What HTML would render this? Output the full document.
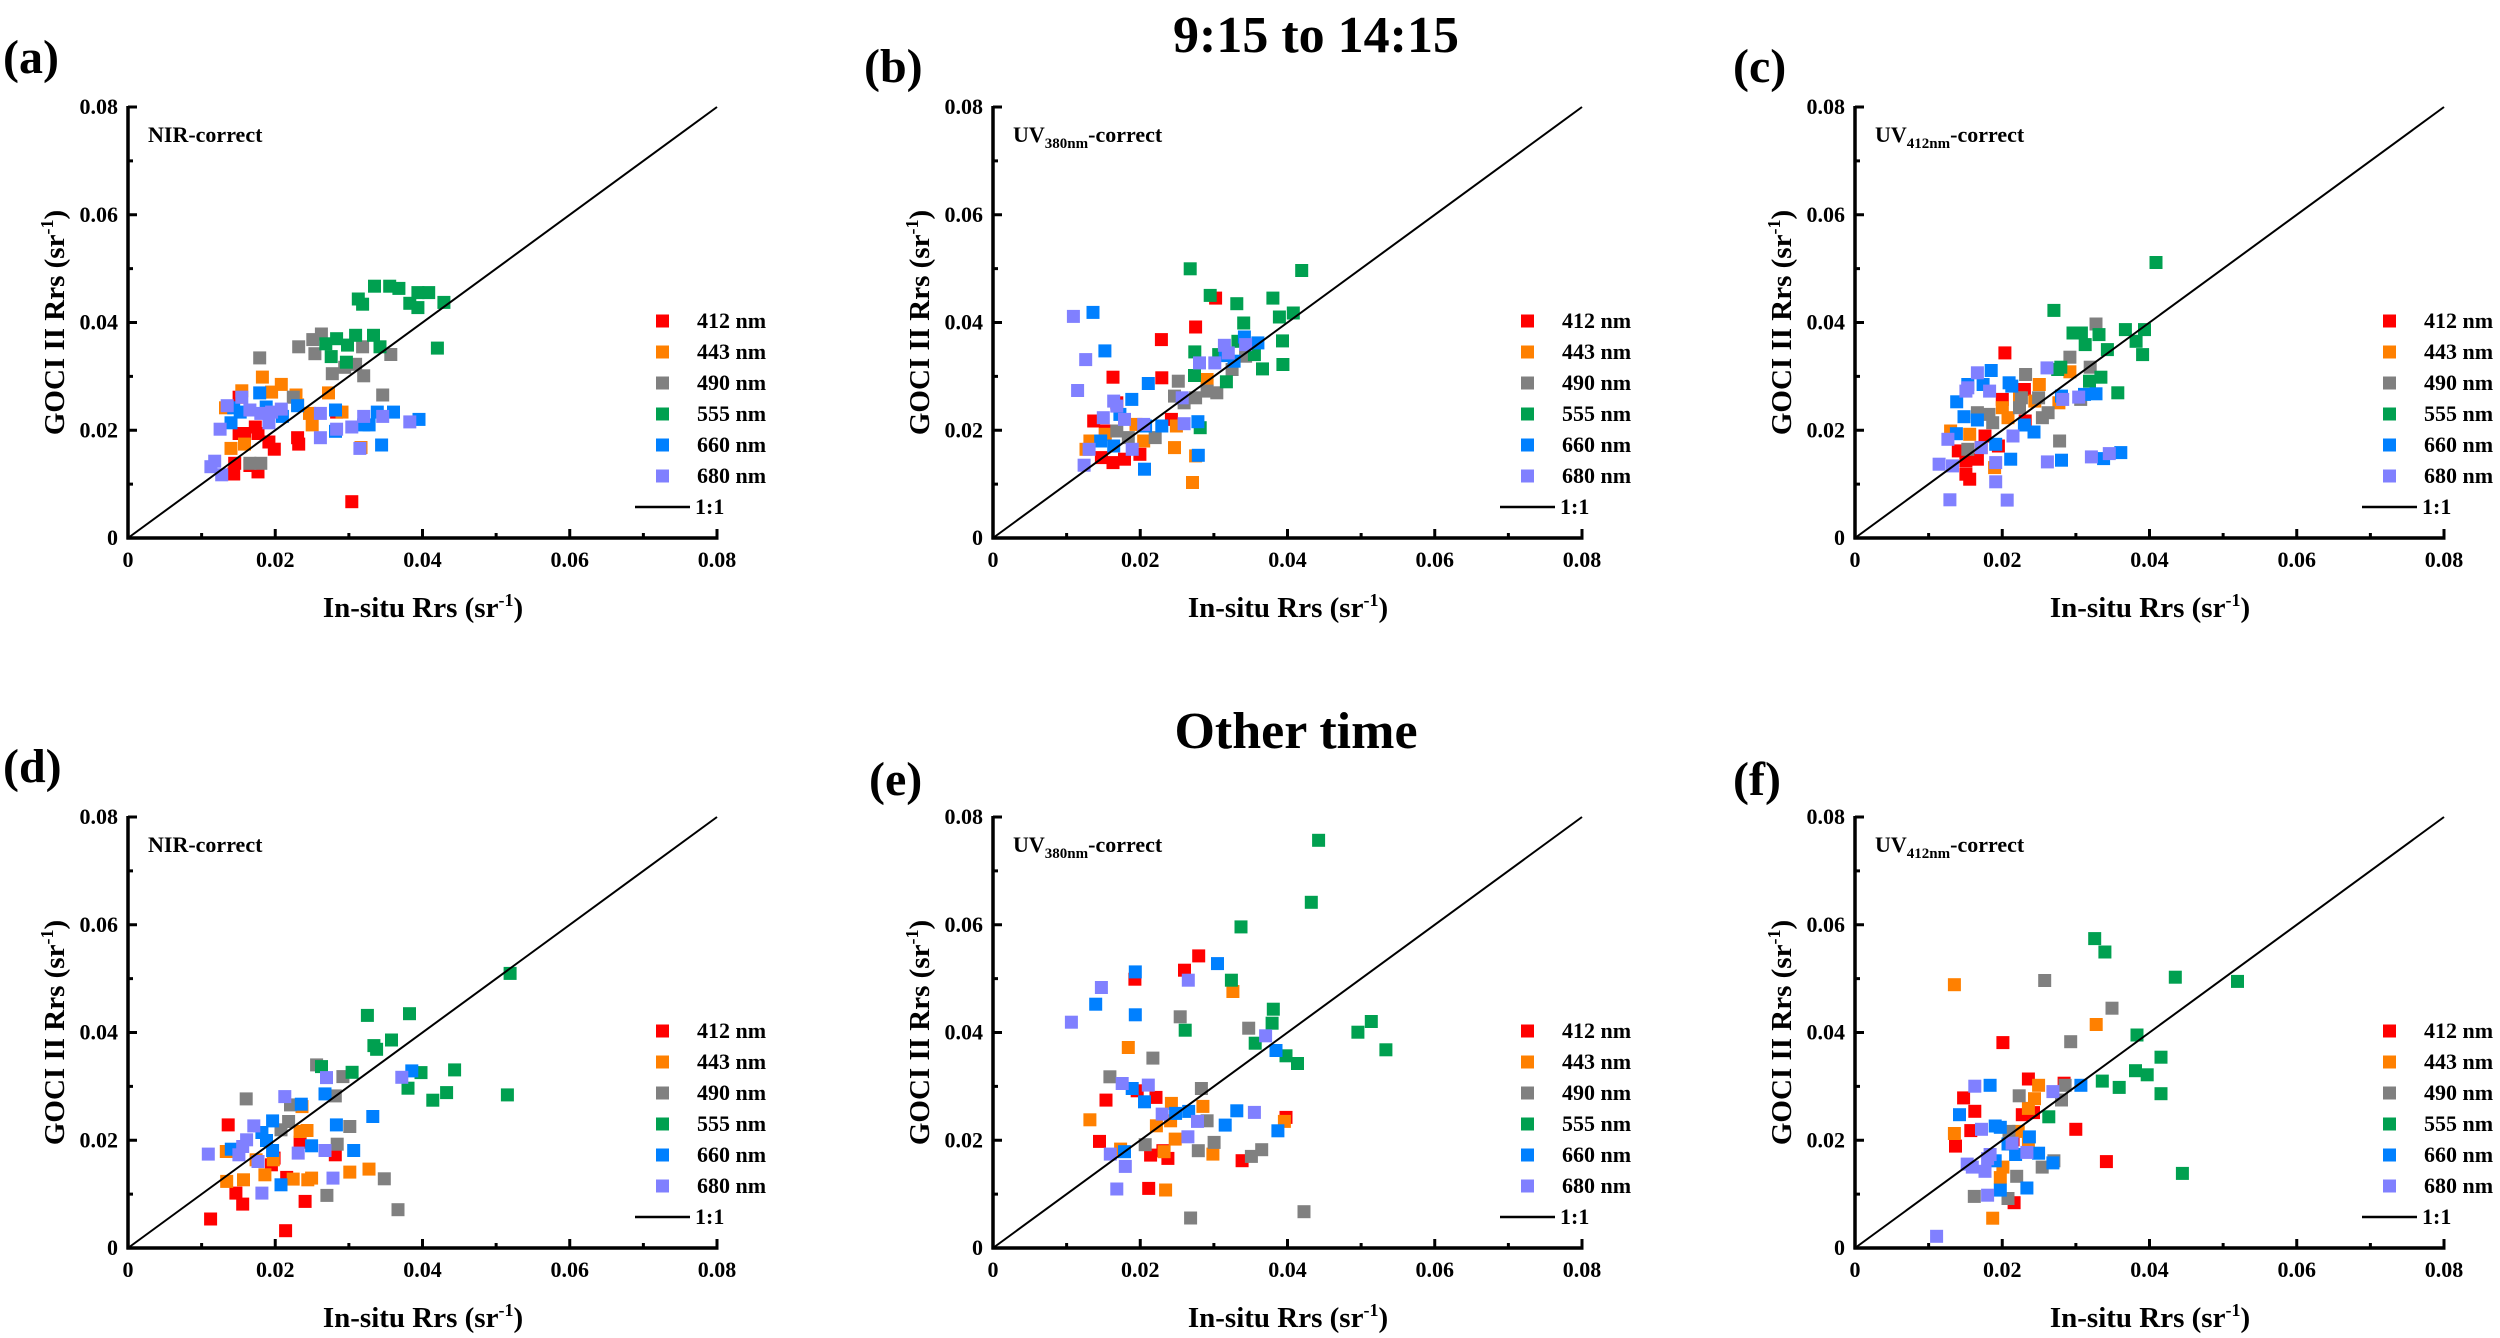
<!DOCTYPE html>
<html><head><meta charset="utf-8"><style>
html,body{margin:0;padding:0;background:#fff;}
svg{display:block;font-family:"Liberation Serif","Times New Roman",serif;font-weight:bold;}
</style></head><body>
<svg id="s" width="2500" height="1338" viewBox="0 0 2500 1338" xmlns="http://www.w3.org/2000/svg">
<rect width="2500" height="1338" fill="#fff"/>
<text x="1316" y="52" font-size="52" text-anchor="middle">9:15 to 14:15</text>
<text x="1296" y="748" font-size="52" text-anchor="middle">Other time</text>
</svg>
<script>
var S=document.getElementById('s');var NS='http://www.w3.org/2000/svg';
function el(t,a,txt){var e=document.createElementNS(NS,t);for(var k in a)e.setAttribute(k,a[k]);if(txt!==undefined)e.textContent=txt;S.appendChild(e);return e;}
var C=['#ff0000','#ff8000','#808080','#00a050','#0080ff','#8080ff'];
var L=['412 nm','443 nm','490 nm','555 nm','660 nm','680 nm'];
var W=589,H=431;
function panel(p){
 var x0=p.x0,top=p.top,y0=top+H;
 el('text',{x:p.lx,y:p.ly,'font-size':48},p.lab);
 for(var c=0;c<6;c++){p.d[c].forEach(function(q){
   var fx=(q[0]-p.z[0])/(p.z[1]-p.z[0]),fy=(p.z[2]-q[1])/(p.z[2]-p.z[3]);
   var px=x0+fx*W,py=y0-fy*H;
   el('rect',{x:(px-6.5).toFixed(1),y:(py-6.5).toFixed(1),width:13,height:13,fill:C[c]});
 });}
 el('line',{x1:x0,y1:y0,x2:x0+W,y2:top,stroke:'#000','stroke-width':2});
 el('line',{x1:x0,y1:top-1,x2:x0,y2:y0+1.5,stroke:'#000','stroke-width':3.5});
 el('line',{x1:x0-1.5,y1:y0,x2:x0+W+1.5,y2:y0,stroke:'#000','stroke-width':3.5});
 for(var i=0;i<=8;i++){
  var len=(i%2==0)?9:5;
  var tx=x0+W*i/8, ty=y0-H*i/8;
  if(i>0){el('line',{x1:tx,y1:y0,x2:tx,y2:y0-len,stroke:'#000','stroke-width':3});
  el('line',{x1:x0,y1:ty,x2:x0+len,y2:ty,stroke:'#000','stroke-width':3});}
  if(i%2==0){var lbl=i==0?'0':(i/100).toFixed(2);
   el('text',{x:tx,y:y0+29,'font-size':22,'text-anchor':'middle'},lbl);
   el('text',{x:x0-10,y:ty+7,'font-size':22,'text-anchor':'end'},lbl);}
 }
 var t=el('text',{x:x0+295,y:y0+79,'font-size':29,'text-anchor':'middle'});
 t.innerHTML='In-situ Rrs (sr<tspan dy="-11" font-size="18">-1</tspan><tspan dy="11">)</tspan>';
 var t2=el('text',{x:0,y:0,'font-size':29,'text-anchor':'middle',transform:'translate('+(x0-64)+','+(top+H/2)+') rotate(-90)'});
 t2.innerHTML='GOCI II Rrs (sr<tspan dy="-11" font-size="18">-1</tspan><tspan dy="11">)</tspan>';
 var a=el('text',{x:x0+20,y:top+35,'font-size':22});
 if(p.ann=='NIR')a.textContent='NIR-correct';
 else a.innerHTML='UV<tspan dy="6" font-size="15">'+p.ann+'nm</tspan><tspan dy="-6">-correct</tspan>';
 for(var k=0;k<6;k++){var ry=top+214+31*k;
  el('rect',{x:x0+528,y:ry-6.5,width:13,height:13,fill:C[k]});
  el('text',{x:x0+569,y:ry+7,'font-size':22},L[k]);}
 var ry=top+214+31*6;
 el('line',{x1:x0+507,y1:ry,x2:x0+562,y2:ry,stroke:'#000','stroke-width':2.5});
 el('text',{x:x0+567,y:ry+7,'font-size':22},'1:1');
}
panel({x0:128,top:107,lab:'(a)',lx:3,ly:73,ann:'NIR',z:[235,1322,1260,250],d:[
[[648,1175],[550,1040],[548,1025],[505,1052],[495,1035],[475,1015],[470,1000],[450,1015],[440,1015],[430,1110],[432,1085],[475,1105],[460,1090],[620,965],[440,930]],
[[483,883],[518,900],[500,918],[545,925],[548,948],[570,968],[575,995],[605,920],[630,965],[425,1050],[450,1040],[445,915],[665,1048],[415,955]],
[[478,838],[550,812],[576,795],[592,782],[580,828],[612,875],[655,853],[670,880],[668,812],[720,830],[705,925],[540,930],[460,1085],[480,1085],[635,860]],
[[690,670],[718,670],[735,675],[660,700],[668,712],[755,710],[770,685],[790,685],[770,720],[818,708],[600,805],[620,793],[655,785],[688,785],[700,812],[610,835],[640,808],[638,848],[806,815]],
[[425,990],[442,965],[478,920],[490,953],[520,975],[548,950],[618,960],[618,1010],[670,995],[680,995],[695,965],[725,965],[772,982],[703,1042],[430,955]],
[[388,1093],[395,1080],[408,1112],[405,1005],[418,950],[445,930],[460,960],[480,968],[500,965],[518,958],[495,990],[590,968],[590,1025],[620,1005],[648,1000],[670,975],[705,975],[755,988],[663,1050]]]});
panel({x0:993,top:107,lab:'(b)',lx:864,ly:82,ann:'380',z:[8,1540,1322,25],d:[
[[587,600],[535,687],[446,725],[320,838],[447,840],[270,970],[330,915],[472,965],[290,1080],[320,1095],[350,1085],[390,1070],[300,1000]],
[[527,1155],[480,1050],[535,1075],[565,845],[485,985],[400,1030],[260,1030],[250,1055],[380,980],[300,1010]],
[[490,850],[480,895],[535,900],[565,880],[590,885],[630,815],[665,775],[330,1000],[430,1020],[360,1020],[505,915]],
[[521,512],[573,592],[642,617],[736,600],[811,517],[660,675],[753,657],[789,645],[761,729],[533,762],[595,770],[688,770],[709,813],[762,800],[532,833],[615,852],[547,990],[645,730]],
[[268,643],[299,759],[412,857],[369,905],[338,950],[288,1030],[322,1045],[402,1115],[542,1073],[541,972],[447,985],[405,985],[662,717],[697,735],[612,773],[635,790]],
[[217,655],[249,785],[228,878],[322,910],[330,925],[295,960],[350,965],[400,980],[505,978],[258,1055],[245,1103],[370,1055],[610,742],[665,740],[545,795],[585,795],[500,900],[620,765]]]});
panel({x0:1855,top:107,lab:'(c)',lx:1733,ly:82,ann:'412',z:[10,1550,1322,25],d:[
[[402,765],[395,905],[453,875],[455,970],[350,1015],[280,1060],[300,1090],[330,1085],[310,1145],[300,1130],[385,1045],[340,1050]],
[[492,860],[572,822],[543,915],[395,930],[410,960],[260,1000],[310,1010],[375,1110],[480,910],[440,900]],
[[640,678],[572,778],[625,808],[456,830],[445,900],[490,900],[515,945],[500,960],[330,945],[360,950],[370,975],[305,1055],[545,1030],[600,905],[440,930]],
[[797,493],[530,637],[580,705],[602,705],[648,710],[717,695],[767,695],[745,730],[612,740],[670,755],[762,770],[548,808],[540,815],[653,838],[623,850],[697,885]],
[[366,818],[305,860],[345,860],[413,855],[420,865],[276,912],[295,957],[330,967],[275,1008],[378,1040],[453,982],[478,1003],[417,1085],[550,1088],[660,1083],[705,1065],[640,888],[610,890],[550,895]],
[[330,825],[305,870],[362,880],[300,880],[253,1025],[423,1015],[340,1050],[230,1100],[265,1105],[378,1095],[378,1153],[258,1207],[408,1208],[513,1093],[628,1078],[675,1068],[512,810],[553,905],[595,898]]]});
panel({x0:128,top:817,lab:'(d)',lx:3,ly:782,ann:'NIR',z:[20,1560,1315,20],d:[
[[282,945],[470,997],[402,1045],[395,1065],[562,1035],[302,1150],[320,1183],[483,1175],[236,1228],[432,1263],[435,1103]],
[[475,890],[470,965],[488,962],[277,1025],[400,1050],[378,1095],[322,1110],[278,1115],[452,1108],[490,1110],[500,1105],[600,1087],[650,1078],[355,1050]],
[[513,765],[582,800],[562,858],[329,867],[445,885],[440,935],[420,960],[600,950],[567,1003],[690,1107],[540,1157],[726,1200]],
[[646,616],[756,611],[709,690],[663,707],[670,718],[526,770],[606,787],[786,788],[874,780],[752,835],[853,848],[817,871],[1012,855],[1019,490]],
[[535,852],[473,883],[398,933],[565,945],[660,920],[370,968],[382,992],[290,1018],[398,1022],[500,1008],[610,1022],[420,1125],[762,783]],
[[539,803],[736,802],[430,860],[349,948],[330,990],[320,1010],[310,1035],[230,1033],[360,1055],[465,1030],[535,1022],[556,1105],[370,1150]]]});
panel({x0:993,top:817,lab:'(e)',lx:869,ly:795,ann:'380',z:[8,1540,1322,28],d:[
[[543,445],[506,488],[377,515],[302,878],[383,850],[432,870],[285,1002],[418,1043],[463,1053],[413,1143],[656,1060],[770,930],[450,1030]],
[[632,552],[360,720],[260,937],[472,888],[554,897],[433,955],[470,940],[482,995],[453,1033],[340,1025],[580,1040],[457,1148],[766,942]],
[[495,628],[673,662],[424,752],[312,808],[550,843],[565,940],[404,1012],[542,1030],[583,1005],[680,1047],[707,1027],[522,1232],[817,1213]],
[[855,98],[836,284],[653,358],[628,518],[737,605],[734,647],[508,668],[690,707],[770,745],[800,768],[992,642],[957,674],[1030,727]],
[[378,493],[592,468],[275,590],[378,622],[370,843],[402,883],[483,918],[517,912],[642,910],[612,953],[744,729],[749,970],[350,1033]],
[[516,518],[290,540],[212,644],[717,685],[344,828],[412,833],[448,920],[540,942],[688,915],[515,988],[313,1040],[352,1077],[330,1145]]]});
panel({x0:1855,top:817,lab:'(f)',lx:1733,ly:795,ann:'412',z:[300,1455,1358,330],d:[
[[590,868],[640,955],[628,1040],[650,1035],[513,1000],[535,1032],[527,1078],[497,1115],[612,1250],[733,1075],[793,1152],[710,965],[610,1100]],
[[495,730],[773,825],[660,970],[652,1002],[640,1025],[495,1085],[590,1165],[585,1190],[570,1287],[640,1110],[620,1080]],
[[672,720],[804,786],[723,866],[712,970],[705,1005],[622,995],[602,1080],[617,1187],[534,1235],[600,1240],[667,1165],[690,1150]],
[[770,620],[790,652],[928,712],[1050,722],[853,850],[900,903],[850,935],[873,945],[785,960],[818,975],[900,990],[680,1045],[942,1180]],
[[565,970],[505,1040],[575,1067],[585,1070],[642,1093],[600,1110],[615,1135],[660,1132],[575,1150],[688,1155],[585,1220],[637,1215],[743,970]],
[[535,972],[548,1075],[565,1135],[560,1145],[608,1108],[637,1130],[688,985],[520,1158],[530,1165],[555,1175],[560,1232],[460,1330]]]});
</script>
</body></html>
